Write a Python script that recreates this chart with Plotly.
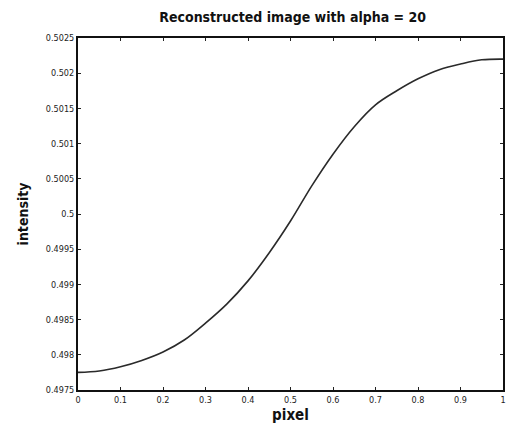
import plotly.graph_objects as go

# Data
pixel = [0.0, 0.05, 0.1, 0.15, 0.2, 0.25, 0.3, 0.35, 0.4, 0.45, 0.5,
         0.55, 0.6, 0.65, 0.7, 0.75, 0.8, 0.85, 0.9, 0.95, 1.0]
intensity = [0.49775, 0.49777, 0.49783, 0.49792, 0.49804, 0.49821, 0.49845, 0.49872,
             0.49905, 0.49945, 0.49990, 0.50040, 0.50085, 0.50124, 0.50155, 0.50175,
             0.50192, 0.50205, 0.50213, 0.50219, 0.50220]

x_ticks = [0, 0.1, 0.2, 0.3, 0.4, 0.5, 0.6, 0.7, 0.8, 0.9, 1]
x_labels = ["0", "0.1", "0.2", "0.3", "0.4", "0.5", "0.6", "0.7", "0.8", "0.9", "1"]
y_ticks = [0.4975, 0.498, 0.4985, 0.499, 0.4995, 0.5, 0.5005, 0.501, 0.5015, 0.502, 0.5025]
y_labels = ["0.4975", "0.498", "0.4985", "0.499", "0.4995", "0.5", "0.5005", "0.501",
            "0.5015", "0.502", "0.5025"]

font_fam = "DejaVu Sans Condensed, Liberation Sans Narrow, sans-serif"

fig = go.Figure()
fig.add_trace(go.Scatter(x=pixel, y=intensity, mode="lines",
                         line=dict(color="#2a2a2a", width=1.6, shape="spline", smoothing=1),
                         showlegend=False))

fig.update_layout(
    width=509, height=439,
    margin=dict(l=78, r=3, t=38, b=49),
    paper_bgcolor="white", plot_bgcolor="white",
    title=dict(text="<b>Reconstructed image with alpha = 20</b>",
               x=0.575, xanchor="center", y=0.962, yanchor="middle",
               font=dict(family=font_fam, size=14, color="#111")),
    font=dict(family=font_fam, color="#222"),
)
fig.update_xaxes(
    range=[0, 1], tickvals=x_ticks, ticktext=x_labels,
    tickfont=dict(size=9, color="#222"),
    showgrid=False, zeroline=False,
    showline=True, linecolor="#111", linewidth=2, mirror="ticks",
    ticks="inside", ticklen=3, tickcolor="#222",
    title=dict(text="<b>pixel</b>", font=dict(size=15, color="#111"), standoff=6),
)
fig.update_yaxes(
    range=[0.4975, 0.5025], tickvals=y_ticks, ticktext=y_labels,
    tickfont=dict(size=9, color="#222"),
    showgrid=False, zeroline=False,
    showline=True, linecolor="#111", linewidth=2, mirror="ticks",
    ticks="inside", ticklen=3, tickcolor="#222",
    title=dict(text="<b>intensity</b>", font=dict(size=14, color="#111"), standoff=14),
)

fig.write_html("out.html")
